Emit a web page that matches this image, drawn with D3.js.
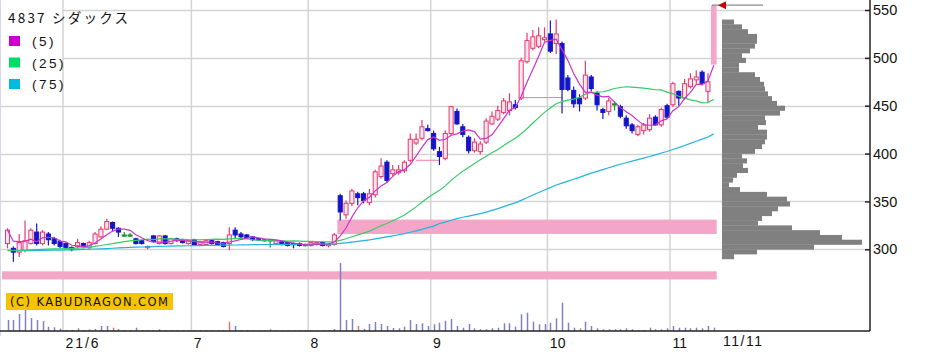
<!DOCTYPE html>
<html><head><meta charset="utf-8">
<script src="https://cdn.jsdelivr.net/npm/d3@7"></script>
<style>body{margin:0;background:#fff}svg{display:block}</style>
</head><body>
<svg id="c" width="933" height="361"></svg>
<script>
// ---------- data ----------
const monthDays = [
  ["2021-05", [18,19,20,21,24,25,26,27,28,31]],
  ["2021-06", [1,2,3,4,7,8,9,10,11,14,15,16,17,18,21,22,23,24,25,28,29,30]],
  ["2021-07", [1,2,5,6,7,8,9,12,13,14,15,16,19,20,21,26,27,28,29,30]],
  ["2021-08", [2,3,4,5,6,10,11,12,13,16,17,18,19,20,23,24,25,26,27,30,31]],
  ["2021-09", [1,2,3,6,7,8,9,10,13,14,15,16,17,21,22,24,27,28,29,30]],
  ["2021-10", [1,4,5,6,7,8,11,12,13,14,15,18,19,20,21,22,25,26,27,28,29]],
  ["2021-11", [1,2,4,5,8,9,10,11]]
];
const dates = monthDays.flatMap(([m, ds]) => ds.map(d => m + "-" + String(d).padStart(2, "0")));

const open = [306,301,297,299,306,318,306,316,311,308,
306,302,303,306,302,306,313,321,328,322,
315,315,311,309,302,314,306,314,306,311,
310,306,310,305,305,309,308,307,306,320,
316,315,313,311,310,310,306,308,307,306,
306,305,304,305,307,304,305,356,336,348,
358,358,349,357,376,391,379,380,382,393,
411,416,426,421,402,395,421,444,428,417,
403,402,412,431,436,443,445,451,458,496,
510,512,519,525,515,515,479,466,458,458,
480,463,446,444,452,449,437,430,420,424,
425,438,430,450,451,465,458,470,477,485,
465,493];
const high = [322,303,316,330,322,327,320,318,313,310,
307,303,311,307,309,318,324,332,329,323,
318,317,312,310,304,315,315,315,312,312,
311,310,311,309,310,310,309,308,323,323,
318,316,314,312,311,311,310,309,308,307,
307,306,308,308,308,306,317,358,351,363,
360,360,363,383,395,393,388,388,393,421,
421,435,430,424,407,424,450,447,431,419,
416,413,437,444,450,458,463,456,500,526,
529,532,532,539,540,517,482,470,462,497,
482,465,448,458,455,451,440,432,430,432,
441,440,448,452,475,466,478,484,487,487,
484,555];
const low = [301,287,292,297,305,304,304,304,304,301,
300,298,301,301,300,305,312,320,319,313,
313,313,305,305,300,307,305,305,305,308,
306,305,304,304,304,305,304,302,299,311,
311,311,309,309,308,302,305,304,303,301,
303,303,303,304,303,302,304,330,332,345,
346,348,346,354,374,370,376,378,380,391,
409,414,423,403,388,393,419,430,417,400,
401,399,410,430,434,441,440,446,456,494,
508,510,517,505,504,442,465,448,444,456,
465,445,436,440,445,437,426,421,418,420,
423,429,428,436,449,450,456,468,473,471,
453,493];
const close = [320,297,307,309,320,306,318,310,306,303,
302,300,307,303,307,316,321,329,322,318,
315,315,306,306,303,308,314,306,311,309,
307,309,305,308,309,306,305,303,315,315,
313,312,310,310,310,310,309,305,304,305,
304,305,307,307,304,305,315,339,348,361,
354,351,358,381,387,372,383,383,391,415,
415,428,424,405,397,421,449,431,420,403,
412,410,434,439,445,455,454,448,497,518,
522,523,521,507,525,467,467,452,452,482,
468,451,443,455,452,439,429,424,428,430,
437,430,446,438,473,458,473,478,480,473,
475,555];
const volume = [110,110,170,220,130,110,100,43,37,23,
10,10,27,10,15,20,50,50,33,20,
10,10,33,10,8,8,17,8,8,8,
5,5,5,8,8,5,5,8,93,50,
10,8,5,5,5,17,5,5,5,5,
5,5,5,5,8,10,20,680,110,120,
50,20,70,90,70,50,30,27,43,110,
70,77,50,67,83,103,120,50,33,70,
27,17,17,27,33,77,77,43,167,183,
93,67,70,83,127,283,83,33,27,93,
50,27,17,17,17,17,27,17,10,10,
33,17,17,27,50,33,33,27,33,27,
50,33];
const volRedIdx = [18,38,60,98];

const ma25Early = [299,299,299,299.2,299.5,299.8,300,300.2,300.4,300.6,
300.8,301,301.3,301.7,302.3,303,304,305,306,307,308,308.8,309.4,310];
const ma75Early = [298.5,298.5,298.5,298.6,298.7,298.8,298.9,299,299.1,299.2,
299.3,299.5,299.7,299.9,300.1,300.3,300.5,300.8,301.1,301.4,
301.7,302,302.2,302.4,302.6,302.8,303,303.2,303.4,303.5,
303.6,303.7,303.8,303.9,304,304.1,304.2,304.3,304.4,304.5,
304.6,304.7,304.8,304.9,305,305,305.1,305.1,305.2,305.2,
305.3,305.3,305.4,305.4,305.5,305.5,305.7,306.2,306.8,307.5,
308.2,309,309.8,310.8,311.9,312.9,314,315.2,316.4,317.8,
319.3,320.9,322.6,324.2];

// price-by-volume profile (bin low edge, 5-yen bins)
const profileLow = [535,530,525,520,515,510,505,500,495,490,485,480,475,470,465,460,455,450,445,440,
435,430,425,420,415,410,405,400,395,390,385,380,375,370,365,360,355,350,345,340,335,330,325,320,315,310,305,300,295,290];
const profileVol = [12,20,26,35,35,33,28,20,24,17,17,33,38,42,43,46,50,55,63,58,
43,44,36,45,45,43,40,33,20,25,21,26,15,11,7,18,45,65,68,56,50,40,36,70,98,120,140,92,35,12];

// open gaps (windows)
const gapFrom = [57, 0];
const gapLow = [316, 268.5];
const gapHigh = [331, 277];
// filled gaps (thin lines)
const fillFrom = [70, 88];
const fillTo = [74, 95];
const fillPrice = [393, 458.5];

const priceTicks = [300,350,400,450,500,550];
const monthLabels = ["21/6","7","8","9","10","11"];
const lastLabel = "11/11";
const lastPrice = 555;
const title = "4837 シダックス";
const legendNames = ["(5)","(25)","(75)"];
const legendColors = ["#cc00cc","#00dd66","#00bbdd"];
const lineColors = ["#cc33cc","#33cc66","#22b4dd"];
const copyright = "(C) KABUDRAGON.COM";

// ---------- drawing ----------
const svg = d3.select("#c");
const n = dates.length;
const x = d3.scaleBand().domain(dates).range([4.6, 716.7]).paddingInner(0.3).paddingOuter(0.15);
const step = x.step(), bw = x.bandwidth();
const cx = d => x(d) + bw / 2;
const y = d3.scaleLinear().domain([300, 550]).range([249.3, 10]);
const vy = d3.scaleLinear().domain([0, 680]).range([331, 263]);
const px = d3.scaleLinear().domain([0, 150]).range([722, 872]);
const AX = 870, AY = 331;

// left border
svg.append("line").attr("x1",0.5).attr("x2",0.5).attr("y1",0).attr("y2",336).attr("stroke","#d6d6ee");

// grid
const monthFirst = dates.map((d,i)=>i).filter(i => i > 0 && dates[i].slice(0,7) !== dates[i-1].slice(0,7));
svg.append("g").selectAll("line").data(priceTicks).join("line")
  .attr("x1",0).attr("x2",AX).attr("y1",d=>Math.round(y(d))+0.5).attr("y2",d=>Math.round(y(d))+0.5)
  .attr("stroke","#d4d4d4").attr("stroke-width",1.5);
// legend background
svg.append("rect").attr("x",1).attr("y",0).attr("width",61).attr("height",95).attr("fill","#fff");
svg.append("g").selectAll("line").data(monthFirst).join("line")
  .attr("x1",i=>cx(dates[i])-step/2).attr("x2",i=>cx(dates[i])-step/2).attr("y1",0).attr("y2",AY)
  .attr("stroke","#d4d4d4").attr("stroke-width",1.5);

// gap bands
svg.append("g").selectAll("rect").data(gapFrom).join("rect")
  .attr("x",(d,i)=> i===1 ? 2 : cx(dates[d]) - step/2)
  .attr("width",(d,i)=> (cx(dates[n-1]) + step/2) - (i===1 ? 2 : cx(dates[d]) - step/2))
  .attr("y",(d,i)=>y(gapHigh[i])).attr("height",(d,i)=>y(gapLow[i])-y(gapHigh[i]))
  .attr("fill","#f4a6c8");
svg.append("g").selectAll("line").data(fillFrom).join("line")
  .attr("x1",d=>cx(dates[d])).attr("x2",(d,i)=>cx(dates[fillTo[i]]))
  .attr("y1",(d,i)=>y(fillPrice[i])).attr("y2",(d,i)=>y(fillPrice[i]))
  .attr("stroke","#f07aa8").attr("stroke-width",1);

// volume
svg.append("g").selectAll("line").data(volume).join("line")
  .attr("x1",(v,i)=>Math.round(cx(dates[i]))+0.5).attr("x2",(v,i)=>Math.round(cx(dates[i]))+0.5)
  .attr("y1",AY).attr("y2",v=>vy(v))
  .attr("stroke",(v,i)=> volRedIdx.includes(i) ? "#d47a7a" : "#8080c4").attr("stroke-width",1.5);

// candles
const idx = d3.range(n);
const col = i => close[i] > open[i] ? "up" : close[i] < open[i] ? "down" : "flat";
const g = svg.append("g");
g.selectAll("line").data(idx).join("line")
  .attr("x1",i=>cx(dates[i])).attr("x2",i=>cx(dates[i]))
  .attr("y1",i=>y(high[i])).attr("y2",i=>y(low[i]))
  .attr("stroke",i=> i===n-1 ? "#f4a6c8" : col(i)==="up" ? "#e8386d" : col(i)==="down" ? "#1414c8" : "#109a30")
  .attr("stroke-width",1.2);
g.selectAll("rect").data(idx).join("rect")
  .attr("x",i=> i===n-1 ? x(dates[i]) - 0.8 : x(dates[i]))
  .attr("width",i=> i===n-1 ? bw + 1.6 : bw)
  .attr("y",i=>y(Math.max(open[i],close[i])))
  .attr("height",i=>Math.max(1.2, y(Math.min(open[i],close[i])) - y(Math.max(open[i],close[i]))))
  .attr("fill",i=> i===n-1 ? "#f4a6c8" : col(i)==="up" ? "#fde6ee" : col(i)==="down" ? "#1414c8" : "#109a30")
  .attr("stroke",i=> i===n-1 ? "none" : col(i)==="up" ? "#e8386d" : col(i)==="down" ? "#1414c8" : "#109a30")
  .attr("stroke-width",1);

// moving averages
const ma5 = idx.map(i => d3.mean(close.slice(Math.max(0, i-4), i+1)));
const ma25 = idx.map(i => i < 24 ? ma25Early[i] : d3.mean(close.slice(i-24, i+1)));
const ma75 = idx.map(i => i < 74 ? ma75Early[i] : d3.mean(close.slice(i-74, i+1)));
const line = d3.line().x((v,i)=>cx(dates[i])).y(v=>y(v));
[[ma75,lineColors[2]],[ma25,lineColors[1]],[ma5,lineColors[0]]].forEach(([arr,c]) => {
  svg.append("path").datum(arr).attr("d",line).attr("fill","none").attr("stroke",c).attr("stroke-width",1.2);
});

// volume profile
svg.append("g").selectAll("rect").data(profileLow).join("rect")
  .attr("x",px(0)).attr("width",(p,i)=>px(profileVol[i])-px(0))
  .attr("y",p=>y(p+5)).attr("height",p=>y(p)-y(p+5)+0.3)
  .attr("fill","#808080");

// last price marker
const ly = y(lastPrice);
svg.append("line").attr("x1",712).attr("x2",763).attr("y1",ly).attr("y2",ly).attr("stroke","#8a8a8a").attr("stroke-width",1.2);
svg.append("path").attr("d",`M718,${ly} L726,${ly-4} L726,${ly+4} Z`).attr("fill","#c80000");

// axes lines
svg.append("line").attr("x1",0).attr("x2",AX).attr("y1",AY).attr("y2",AY).attr("stroke","#222").attr("stroke-width",1.5);
svg.append("line").attr("x1",AX).attr("x2",AX).attr("y1",0).attr("y2",AY).attr("stroke","#222").attr("stroke-width",1.5);

// right price axis
const ya = svg.append("g").attr("transform",`translate(${AX},0)`)
  .call(d3.axisRight(y).tickValues(priceTicks).tickSizeInner(-5).tickSizeOuter(0).tickPadding(3).tickFormat(d3.format("d")));
ya.select(".domain").remove();
ya.selectAll("line").attr("stroke","#222").attr("stroke-width",1.5);
ya.selectAll("text").attr("font-family","Liberation Sans, Arial, sans-serif").attr("font-size",14.5).attr("fill","#111");

// bottom date labels
const xa = svg.append("g").attr("transform",`translate(0,${AY})`)
  .call(d3.axisBottom(x).tickValues(monthFirst.map(i=>dates[i])).tickSize(0).tickPadding(3)
    .tickFormat((d,k)=>monthLabels[k]));
xa.select(".domain").remove();
xa.selectAll("text").attr("text-anchor","start").attr("dx",-0.5).attr("dy","1em")
  .attr("font-family","Liberation Sans, Arial, sans-serif").attr("font-size",14).attr("letter-spacing",(d,k)=>k===0?2:0).attr("fill","#111");
svg.append("text").attr("x",px(0)+1).attr("y",346).text(lastLabel)
  .attr("font-family","Liberation Sans, Arial, sans-serif").attr("font-size",14).attr("letter-spacing",1.5).attr("fill","#111");

// legend
svg.append("text").attr("x",8).attr("y",23).text(title)
  .attr("font-family","Noto Sans CJK JP, sans-serif").attr("font-size",13.5).attr("textLength",120).attr("lengthAdjust","spacing").attr("fill","#111");
legendNames.forEach((name,k) => {
  svg.append("rect").attr("x",9).attr("y",36 + k*21.5).attr("width",11).attr("height",10).attr("fill",legendColors[k]);
  svg.append("text").attr("x",32).attr("y",46 + k*21.5).text(name)
    .attr("font-family","Liberation Sans, Arial, sans-serif").attr("font-size",13.5).attr("letter-spacing",2.5).attr("fill","#111");
});

// copyright
svg.append("rect").attr("x",6).attr("y",293).attr("width",167).attr("height",17).attr("fill","#f5c400");
svg.append("text").attr("x",10).attr("y",306).text(copyright)
  .attr("font-family","DejaVu Sans, sans-serif").attr("font-size",11.5).attr("textLength",158).attr("lengthAdjust","spacing").attr("fill","#111");
</script>
</body></html>
